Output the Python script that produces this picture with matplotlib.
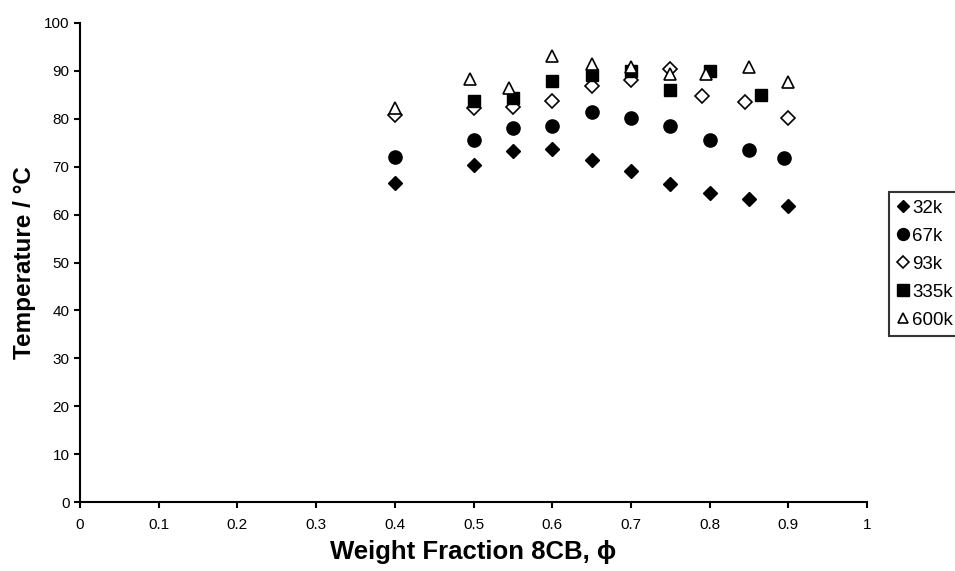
import matplotlib
matplotlib.use("Agg")
import matplotlib.pyplot as plt

plt.rcParams["font.family"] = ["Liberation Sans", "DejaVu Sans"]

# Daten
x_32k = [0.40, 0.50, 0.55, 0.60, 0.65, 0.70, 0.75, 0.80, 0.85, 0.90]
t_32k = [66.5, 70.3, 73.3, 73.7, 71.4, 69.0, 66.3, 64.5, 63.2, 61.8]

x_67k = [0.40, 0.50, 0.55, 0.60, 0.65, 0.70, 0.75, 0.80, 0.85, 0.895]
t_67k = [72.1, 75.6, 78.1, 78.4, 81.4, 80.1, 78.6, 75.6, 73.5, 71.8]

x_93k = [0.40, 0.50, 0.55, 0.60, 0.65, 0.70, 0.75, 0.79, 0.845, 0.90]
t_93k = [80.7, 82.3, 82.4, 83.7, 86.8, 88.2, 90.5, 84.8, 83.5, 80.2]

x_335k = [0.50, 0.55, 0.60, 0.65, 0.70, 0.75, 0.80, 0.865]
t_335k = [83.8, 84.4, 87.8, 89.1, 90.0, 86.0, 90.0, 85.0]

x_600k = [0.40, 0.495, 0.545, 0.60, 0.65, 0.70, 0.75, 0.795, 0.85, 0.90]
t_600k = [82.2, 88.3, 86.5, 93.1, 91.4, 90.8, 89.3, 89.3, 90.8, 87.7]

fig = plt.figure(figsize=(9.55, 5.71), dpi=100)
ax = fig.add_axes([80 / 955, 69 / 571, 787 / 955, 479 / 571])

ax.plot(x_32k, t_32k, linestyle="none", marker="D", markersize=7,
        color="black", label="32k")
ax.plot(x_67k, t_67k, linestyle="none", marker="o", markersize=9.5,
        color="black", label="67k")
ax.plot(x_93k, t_93k, linestyle="none", marker="D", markersize=6.8,
        markerfacecolor="white", markeredgecolor="black", markeredgewidth=1.2,
        label="93k")
ax.plot(x_335k, t_335k, linestyle="none", marker="s", markersize=9,
        color="black", label="335k")
ax.plot(x_600k, t_600k, linestyle="none", marker="^", markersize=8.5,
        markerfacecolor="white", markeredgecolor="black", markeredgewidth=1.2,
        label="600k")

ax.set_xlim(0, 1)
ax.set_ylim(0, 100)
ax.set_xticks([i / 10 for i in range(11)])
ax.set_xticklabels(["0"] + ["0.%d" % i for i in range(1, 10)] + ["1"])
ax.set_yticks(range(0, 101, 10))
ax.spines["top"].set_visible(False)
ax.spines["right"].set_visible(False)
ax.spines["left"].set_linewidth(1.5)
ax.spines["bottom"].set_linewidth(1.5)
ax.tick_params(direction="out", length=4.5, width=1.5, labelsize=11, pad=3)
ax.tick_params(axis="x", pad=7)

ax.set_xlabel("Weight Fraction 8CB, \u03d5", fontsize=18.5, fontweight="bold",
              labelpad=6)
ax.set_ylabel("Temperature / \u00b0C", fontsize=17.5, fontweight="bold",
              labelpad=6)

leg = fig.legend(loc="upper left", bbox_to_anchor=(889 / 955, 1 - 192 / 571),
                 frameon=True, fancybox=False, fontsize=13.5, markerscale=0.9,
                 handlelength=0.7, handletextpad=0.15, borderpad=0.4,
                 labelspacing=0.58, borderaxespad=0)
leg.get_frame().set_edgecolor("black")
leg.get_frame().set_linewidth(1.5)

fig.savefig("out.png", dpi=100)
